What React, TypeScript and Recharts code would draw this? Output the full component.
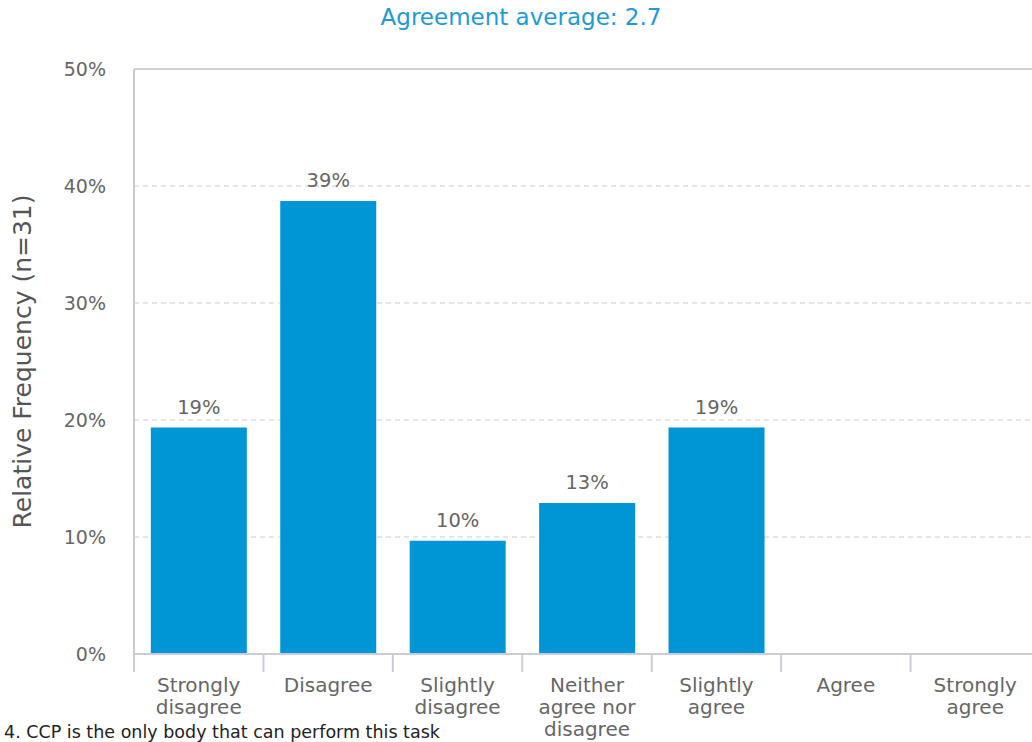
import React from "react";
import { BarChart, Bar, XAxis, YAxis, CartesianGrid, LabelList, ReferenceLine } from "recharts";

const categories = [
  "Strongly disagree",
  "Disagree",
  "Slightly disagree",
  "Neither agree nor disagree",
  "Slightly agree",
  "Agree",
  "Strongly agree",
];
const categoryLines = [
  ["Strongly", "disagree"],
  ["Disagree"],
  ["Slightly", "disagree"],
  ["Neither", "agree nor", "disagree"],
  ["Slightly", "agree"],
  ["Agree"],
  ["Strongly", "agree"],
];
const values = [19.35, 38.71, 9.68, 12.9, 19.35, 0, 0];
const yTicks = [0, 10, 20, 30, 40, 50];
const title = "Agreement average: 2.7";
const yLabel = "Relative Frequency (n=31)";
const footer = "4. CCP is the only body that can perform this task";

const data = categories.map((c, i) => ({ name: c, value: values[i], idx: i }));

const FONT = "'DejaVu Sans', Verdana, sans-serif";
const BAND = 906 / 7;

const XTick = (props: any) => {
  const { x, y, payload } = props;
  const i = payload.index;
  const lines = categoryLines[i] || [payload.value];
  return (
    <g>
      <line x1={x - BAND / 2} x2={x - BAND / 2} y1={y - 8} y2={y + 10} stroke="#ccccd6" strokeWidth={2} />
      {i === categories.length - 1 && (
        <line x1={x + BAND / 2} x2={x + BAND / 2} y1={y - 8} y2={y + 10} stroke="#ccccd6" strokeWidth={2} />
      )}
      <text x={x} y={y + 30} textAnchor="middle" fill="#666" fontSize={20} fontFamily={FONT}>
        {lines.map((l: string, k: number) => (
          <tspan key={k} x={x} dy={k === 0 ? 0 : 22}>
            {l}
          </tspan>
        ))}
      </text>
    </g>
  );
};

export default function App() {
  return (
    <div style={{ position: "fixed", left: 0, top: 0, width: 1032, height: 742, overflow: "hidden", background: "#fff" }}>
      <div
        style={{
          position: "absolute",
          left: 0,
          width: 1042,
          top: 4,
          textAlign: "center",
          color: "#1e9ad6",
          fontSize: 23,
          fontFamily: FONT,
        }}
      >
        {title}
      </div>
      <div style={{ position: "absolute", left: 0, top: 0 }}>
        <BarChart
          width={1060}
          height={742}
          data={data}
          margin={{ top: 69, right: 20, left: 0, bottom: 0 }}
          barCategoryGap="13%"
        >
          <CartesianGrid vertical={false} strokeDasharray="5 4" stroke="#dddddd" strokeWidth={1.5} />
          <ReferenceLine y={50} stroke="#d0d0d0" strokeWidth={2} />
          <XAxis
            dataKey="name"
            height={88}
            axisLine={{ stroke: "#ccccd6", strokeWidth: 2 }}
            tickLine={false}
            tickSize={0}
            tickMargin={8}
            interval={0}
            tick={<XTick />}
          />
          <YAxis
            width={134}
            domain={[0, 50]}
            ticks={yTicks}
            tickFormatter={(v: number) => `${v}%`}
            axisLine={{ stroke: "#cccccc", strokeWidth: 2 }}
            tickLine={false}
            tickSize={0}
            tickMargin={28}
            tick={{ fill: "#666", fontSize: 19, fontFamily: FONT }}
            label={{
              value: yLabel,
              angle: -90,
              position: "insideLeft",
              offset: 22,
              style: { textAnchor: "middle", fill: "#555", fontSize: 25, fontFamily: FONT },
            }}
          />
          <Bar dataKey="value" fill="#0096d6" isAnimationActive={false}>
            <LabelList
              dataKey="value"
              position="top"
              offset={14}
              formatter={(v: number) => (v > 0 ? `${Math.round(v)}%` : "")}
              style={{ fill: "#666", fontSize: 19.5, fontFamily: FONT }}
            />
          </Bar>
        </BarChart>
      </div>
      <div
        style={{
          position: "absolute",
          left: 4,
          top: 722,
          color: "#222",
          fontSize: 17.5,
          lineHeight: "20px",
          fontFamily: FONT,
          whiteSpace: "nowrap",
        }}
      >
        {footer}
      </div>
    </div>
  );
}
